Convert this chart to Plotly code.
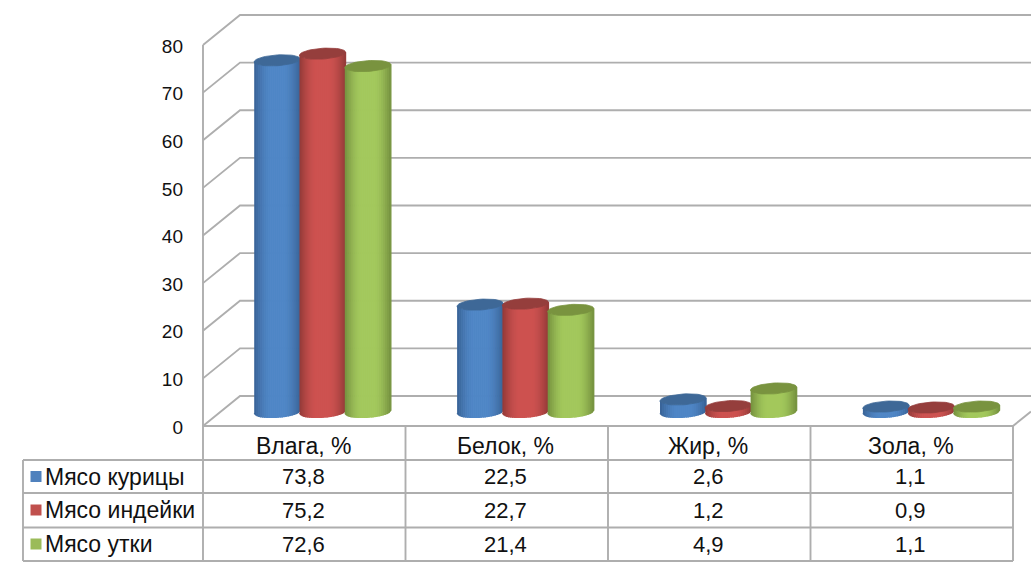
import math
import plotly.graph_objects as go

categories = ["Влага, %", "Белок, %", "Жир, %", "Зола, %"]
series_names = ["Мясо курицы", "Мясо индейки", "Мясо утки"]
chicken = [73.8, 22.5, 2.6, 1.1]
turkey = [75.2, 22.7, 1.2, 0.9]
duck = [72.6, 21.4, 4.9, 1.1]
y_ticks = [0, 10, 20, 30, 40, 50, 60, 70, 80]

W, H = 1031, 569
SERIES = [chicken, turkey, duck]
SWATCH = ["#4F81BD", "#C0504D", "#9BBB59"]
BODY = [(79, 134, 198), (205, 82, 80), (163, 200, 92)]
EDGE = [(56, 98, 150), (146, 58, 56), (116, 144, 62)]
CAP = ["#3E6897", "#953E3C", "#79933F"]
GRID = "#AEAEAE"

PX_PER_UNIT = 4.7625
BASE_PX = 411.0
CYL_SHIFT = 0.8
GROUP_PX = 322.5
GROUP_STEP = 202.9
SERIES_STEP = 45.3
HALF_W = 23.0
SEMI_H = 5.4
TILT = 0.065
DEPTH_Y = 15.0
STRIPS = 23
FONT = "Liberation Sans"


def xd(px):
    return (px - GROUP_PX) / GROUP_STEP


def yd(px):
    return (BASE_PX - px) / PX_PER_UNIT


def val_px(v):
    return BASE_PX - v * PX_PER_UNIT


fig = go.Figure()


def line(xs, ys, width=1.9):
    fig.add_trace(go.Scatter(x=[xd(a) for a in xs], y=[yd(b) for b in ys], mode="lines",
                             line=dict(color=GRID, width=width), hoverinfo="skip", showlegend=False))


# walls and gridlines
for t in y_ticks:
    front = val_px(t) + DEPTH_Y
    back = val_px(t) - DEPTH_Y
    line([203, 240, 1031], [front, back, back])
line([1013, 1031], [426, 411.5])

# table rules
line([203, 1013], [426, 426])
line([203, 203], [45, 561])
for xp in (405.5, 608, 810.5, 1013):
    line([xp, xp], [426, 561])
line([23, 23], [460, 561])
for yp in (460, 493, 527.5, 561):
    line([23, 1013], [yp, yp])


def shade(u, s):
    if u < 0.38:
        f = math.sin(u / 0.38 * math.pi / 2)
    elif u < 0.62:
        f = 1.0
    else:
        f = math.cos((u - 0.62) / 0.38 * math.pi / 2)
    c = [round(EDGE[s][k] + (BODY[s][k] - EDGE[s][k]) * f) for k in range(3)]
    return "rgb(%d,%d,%d)" % tuple(c)


for s, values in enumerate(SERIES):
    for i in range(STRIPS):
        xs, ys = [], []
        t0 = -1 + 2 * i / STRIPS
        t1 = -1 + 2 * (i + 1) / STRIPS
        for g, v in enumerate(values):
            cx = GROUP_PX + GROUP_STEP * g + SERIES_STEP * (s - 1)
            for (t, lv) in ((t0, 0), (t1, 0), (t1, v), (t0, v)):
                px = cx + t * HALF_W
                py = val_px(lv) + CYL_SHIFT + SEMI_H * math.sqrt(max(0, 1 - t * t)) - TILT * t * HALF_W
                xs.append(xd(px))
                ys.append(yd(py))
            xs.append(None)
            ys.append(None)
        col = shade((i + 0.5) / STRIPS, s)
        fig.add_trace(go.Scatter(x=xs, y=ys, mode="lines", fill="toself", fillcolor=col,
                                 line=dict(color=col, width=1.4), hoverinfo="skip", showlegend=False))
    # top caps
    xs, ys = [], []
    for g, v in enumerate(values):
        cx = GROUP_PX + GROUP_STEP * g + SERIES_STEP * (s - 1)
        for k in range(49):
            a = 2 * math.pi * k / 48
            dx = HALF_W * math.cos(a)
            xs.append(xd(cx + dx))
            ys.append(yd(val_px(v) + CYL_SHIFT + SEMI_H * math.sin(a) - TILT * dx))
        xs.append(None)
        ys.append(None)
    fig.add_trace(go.Scatter(x=xs, y=ys, mode="lines", fill="toself", fillcolor=CAP[s],
                             line=dict(color=CAP[s], width=0.8), hoverinfo="skip", showlegend=False))

# legend keys in the table
ROW_Y = [476.5, 510, 544]
fig.add_trace(go.Scatter(x=[xd(36)] * 3, y=[yd(p) for p in ROW_Y], mode="markers",
                         marker=dict(symbol="square", size=11, color=SWATCH, line=dict(width=0)),
                         hoverinfo="skip", showlegend=False))

ann = []


def text(px, py, s, size, anchor="center"):
    ann.append(dict(x=px / W, y=1 - py / H, xref="paper", yref="paper", text=s, showarrow=False,
                    xanchor=anchor, yanchor="middle", font=dict(family=FONT, size=size, color="#111111")))


for g, c in enumerate(categories):
    cx = 303 + 202.5 * g
    text(cx, 446, c, 23)
    for s, values in enumerate(SERIES):
        text(cx, ROW_Y[s], ("%.1f" % values[g]).replace(".", ","), 22)
for s, name in enumerate(series_names):
    text(43, ROW_Y[s], name, 23, "left")

fig.update_layout(
    width=W, height=H, margin=dict(l=0, r=0, t=0, b=0), paper_bgcolor="white", plot_bgcolor="white",
    annotations=ann, showlegend=False,
    xaxis=dict(range=[xd(0), xd(W)], visible=False, fixedrange=True),
    yaxis=dict(range=[yd(H), yd(0)], anchor="free", position=183 / W, showgrid=False, zeroline=False,
               showline=False, ticks="", fixedrange=True,
               tickvals=[t - (DEPTH_Y + 1) / PX_PER_UNIT for t in y_ticks], ticktext=[str(t) for t in y_ticks],
               tickfont=dict(family=FONT, size=19, color="#111111")),
)

fig.write_html("out.html", config={"displayModeBar": False},
               post_script="document.body.style.margin='0';document.body.style.overflow='hidden';")
